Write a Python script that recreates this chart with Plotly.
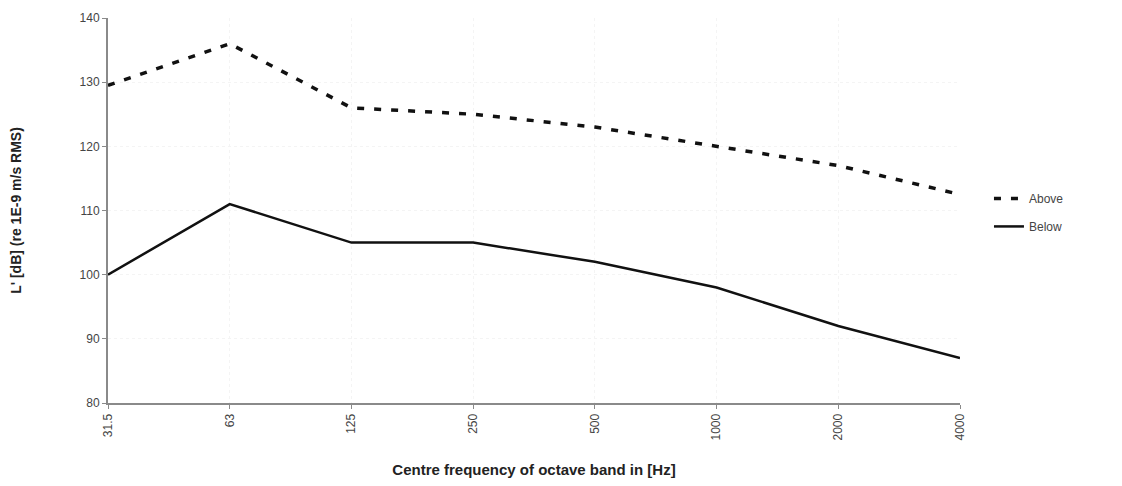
import plotly.graph_objects as go

categories = ["31.5", "63", "125", "250", "500", "1000", "2000", "4000"]
above = [129.5, 136, 126, 125, 123, 120, 117, 112.5]
below = [100, 111, 105, 105, 102, 98, 92, 87]
y_ticks = [80, 90, 100, 110, 120, 130, 140]

fig = go.Figure()
fig.add_trace(go.Scatter(x=categories, y=above, mode="lines", name="Above",
                         legendgroup="a",
                         line=dict(color="#111111", width=3.5, dash="7px,10px")))
fig.add_trace(go.Scatter(x=categories, y=below, mode="lines", name="Below",
                         legendgroup="b",
                         line=dict(color="#111111", width=2.5)))

font = "Liberation Sans, Arial, sans-serif"
fig.update_layout(
    width=1106, height=470,
    margin=dict(l=100, r=154, t=10, b=75, autoexpand=False),
    paper_bgcolor="white", plot_bgcolor="white",
    font=dict(family=font, size=12, color="#444444"),
    showlegend=True,
    legend=dict(x=1.034, y=0.495, xanchor="left", yanchor="middle",
                font=dict(size=12, color="#444444"), bgcolor="rgba(0,0,0,0)",
                tracegroupgap=9),
    xaxis=dict(
        type="category", range=[0, 7], tickangle=-90, automargin=False,
        showline=True, linecolor="#8a8a8a", linewidth=2,
        ticks="outside", ticklen=4, tickcolor="#8a8a8a",
        showgrid=True, gridcolor="#f4f4f4", griddash="dot", gridwidth=1,
        zeroline=False,
        title=dict(text="<b>Centre frequency of octave band in [Hz]</b>",
                   font=dict(size=15, color="#222222"), standoff=26),
    ),
    yaxis=dict(
        range=[80, 140], tickvals=y_ticks, automargin=False,
        showline=True, linecolor="#8a8a8a", linewidth=2,
        ticks="outside", ticklen=4, tickcolor="#8a8a8a",
        showgrid=True, gridcolor="#f4f4f4", griddash="dot", gridwidth=1,
        zeroline=False,
        title=dict(text="<b>L' [dB] (re 1E-9 m/s RMS)</b>",
                   font=dict(size=14, color="#222222"), standoff=55),
    ),
)

fig.write_html("out.html")
